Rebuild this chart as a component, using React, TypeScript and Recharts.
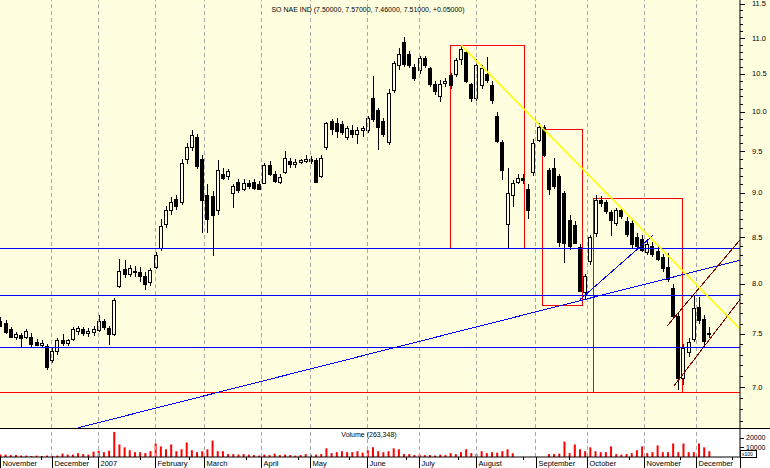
import { Bar, BarChart, ComposedChart, ReferenceArea, ReferenceLine, XAxis, YAxis } from "recharts"

// one candle every second session
const opens = [
  7.62, 7.61, 7.55, 7.47, 7.49, 7.47, 7.47, 7.42, 7.39, 7.38, 7.25, 7.33, 7.44, 7.41, 7.45, 7.53, 7.55, 7.51, 7.52, 7.54,
  7.62, 7.56, 7.5, 7.98, 8.16, 8.1, 8.14, 8.12, 8.08, 8.02, 8.18, 8.38, 8.65, 8.8, 8.93, 8.9, 9.4, 9.55, 9.68, 9.4,
  8.98, 8.97, 8.8, 9.22, 9.2, 9.0, 9.13, 9.05, 9.12, 9.13, 9.1, 9.12, 9.33, 9.22, 9.13, 9.25, 9.38, 9.34, 9.37, 9.38,
  9.4, 9.39, 9.2, 9.55, 9.88, 9.86, 9.84, 9.68, 9.77, 9.72, 9.76, 9.77, 10.18, 10.02, 9.88, 9.62, 10.28, 10.62, 10.95, 10.78,
  10.6, 10.55, 10.72, 10.58, 10.36, 10.2, 10.38, 10.48, 10.5, 10.7, 10.8, 10.36, 10.18, 10.35, 10.5, 10.35, 9.95, 9.62, 8.65, 8.98,
  9.13, 9.18, 9.05, 9.25, 9.64, 9.8, 9.27, 9.3, 9.2, 9.0, 8.69, 8.63, 8.39, 7.92, 8.24, 8.55, 8.92, 8.9, 8.78, 8.66,
  8.8, 8.68, 8.66, 8.5, 8.48, 8.34, 8.4, 8.35, 8.28, 8.18, 7.96, 7.67, 7.08, 7.32, 7.45, 7.76, 7.64, 7.5,
]
const highs = [
  7.66, 7.63, 7.57, 7.52, 7.51, 7.55, 7.51, 7.45, 7.44, 7.4, 7.36, 7.46, 7.5, 7.45, 7.57, 7.58, 7.57, 7.56, 7.58, 7.68,
  7.64, 7.58, 7.86, 8.26, 8.25, 8.2, 8.19, 8.18, 8.12, 8.17, 8.34, 8.7, 8.85, 8.95, 8.98, 9.4, 9.6, 9.76, 9.72, 9.45,
  9.1, 9.02, 9.39, 9.3, 9.28, 9.1, 9.17, 9.16, 9.15, 9.16, 9.14, 9.36, 9.38, 9.26, 9.22, 9.5, 9.42, 9.4, 9.41, 9.46,
  9.44, 9.42, 9.46, 9.87, 9.91, 9.92, 9.88, 9.82, 9.83, 9.8, 9.82, 9.95, 10.47, 10.05, 9.92, 10.3, 10.68, 10.86, 11.02, 10.82,
  10.63, 10.75, 10.75, 10.6, 10.4, 10.42, 10.45, 10.52, 10.72, 10.9, 10.83, 10.38, 10.7, 10.62, 10.74, 10.4, 10.0, 9.64, 9.3, 9.15,
  9.22, 9.22, 9.1, 9.65, 9.86, 9.83, 9.3, 9.42, 9.22, 9.02, 8.75, 8.68, 8.42, 8.1, 8.52, 8.98, 8.96, 8.92, 8.8, 8.83,
  8.83, 8.72, 8.7, 8.55, 8.52, 8.48, 8.45, 8.4, 8.32, 8.33, 8.0, 7.7, 7.4, 7.46, 7.88, 7.87, 7.68, 7.57,
]
const lows = [
  7.57, 7.5, 7.46, 7.44, 7.37, 7.45, 7.37, 7.38, 7.37, 7.16, 7.22, 7.3, 7.38, 7.38, 7.43, 7.49, 7.48, 7.47, 7.48, 7.52,
  7.54, 7.39, 7.48, 7.96, 8.06, 8.07, 8.07, 8.02, 7.94, 7.98, 8.16, 8.35, 8.6, 8.75, 8.8, 8.86, 9.35, 9.5, 9.28, 8.55,
  8.55, 8.29, 8.75, 9.15, 9.15, 8.83, 9.0, 9.02, 9.05, 9.03, 9.03, 9.1, 9.2, 9.12, 9.11, 9.22, 9.3, 9.3, 9.34, 9.36,
  9.35, 9.12, 9.18, 9.52, 9.7, 9.66, 9.7, 9.64, 9.66, 9.59, 9.68, 9.73, 9.87, 9.52, 9.68, 9.58, 10.25, 10.55, 10.6, 10.58,
  10.4, 10.5, 10.58, 10.32, 10.22, 10.12, 10.33, 10.3, 10.46, 10.62, 10.38, 10.12, 10.14, 10.3, 10.38, 10.1, 9.6, 9.15, 8.38, 8.84,
  9.1, 9.1, 8.7, 9.2, 9.62, 9.43, 8.98, 9.05, 8.39, 8.22, 8.36, 8.42, 7.92, 7.84, 8.2, 8.5, 8.84, 8.76, 8.51, 8.62,
  8.7, 8.5, 8.38, 8.36, 8.34, 8.3, 8.28, 8.24, 8.12, 8.02, 7.65, 6.97, 7.02, 7.28, 7.42, 7.6, 7.38, 7.46,
]
const closes = [
  7.58, 7.52, 7.47, 7.5, 7.46, 7.53, 7.4, 7.39, 7.41, 7.18, 7.33, 7.44, 7.41, 7.44, 7.55, 7.56, 7.51, 7.53, 7.55, 7.62,
  7.57, 7.5, 7.84, 8.14, 8.1, 8.17, 8.12, 8.08, 8.0, 8.15, 8.31, 8.62, 8.8, 8.9, 8.85, 9.36, 9.55, 9.7, 9.32, 8.92,
  8.7, 8.75, 9.27, 9.18, 9.26, 9.08, 9.04, 9.12, 9.08, 9.06, 9.05, 9.33, 9.22, 9.14, 9.19, 9.42, 9.35, 9.37, 9.39, 9.41,
  9.38, 9.13, 9.42, 9.85, 9.78, 9.75, 9.74, 9.79, 9.72, 9.77, 9.79, 9.92, 9.9, 9.8, 9.72, 10.25, 10.65, 10.78, 10.63, 10.62,
  10.45, 10.72, 10.62, 10.36, 10.27, 10.36, 10.4, 10.35, 10.69, 10.85, 10.4, 10.18, 10.62, 10.58, 10.42, 10.15, 9.63, 9.27, 9.0, 9.12,
  9.18, 9.15, 8.8, 9.6, 9.8, 9.45, 9.05, 9.08, 8.45, 8.44, 8.4, 8.44, 7.93, 8.08, 8.5, 8.92, 8.88, 8.79, 8.69, 8.8,
  8.74, 8.53, 8.42, 8.4, 8.36, 8.42, 8.32, 8.26, 8.17, 8.05, 7.67, 7.08, 7.36, 7.42, 7.75, 7.63, 7.43, 7.51,
]
const volumes = [
  2500, 2500, 2000, 2000, 1500, 1500, 1000, 1500, 1000, 1500, 1000, 1500, 3500, 2500, 2500, 4000, 3000, 2500, 5500, 6500,
  5000, 6500, 26000, 13000, 10000, 7000, 5000, 5000, 4000, 6000, 14000, 11000, 8000, 13000, 6000, 8000, 15000, 7000, 5000, 6000,
  8000, 17000, 6000, 6000, 3000, 3000, 2500, 3000, 2500, 2000, 1500, 2500, 2000, 3500, 2000, 2500, 2000, 1500, 2000, 3000,
  2500, 2500, 3000, 9000, 4000, 5000, 6000, 5000, 5000, 6000, 4500, 7000, 10000, 6000, 5000, 6000, 9000, 8000, 3000, 3000,
  2000, 2500, 2000, 2000, 1500, 2500, 2000, 4000, 3000, 5000, 8000, 4000, 3000, 6000, 4000, 5000, 4500, 6000, 8000, 4000,
  0, 0, 0, 0, 0, 0, 3000, 3000, 3500, 16000, 4000, 13000, 8000, 6000, 10000, 6000, 5000, 5000, 11000, 3000,
  2500, 3000, 4000, 7000, 11000, 4000, 5000, 12000, 5000, 5000, 14000, 5000, 14000, 5000, 5000, 14000, 10000, 6000,
]

const sessions = opens.map((_, k) => k * 2)

const monthStarts = [0, 20, 38, 60, 79, 101, 120, 142, 162, 184, 207, 227, 249, 269]
const monthLabels = [
  "November", "December", "2007", "February", "March", "April", "May",
  "June", "July", "August", "September", "October", "November", "December",
]
const minorDayTicks = [16, 34, 54, 73, 95, 115, 135, 157, 177, 202, 220, 243, 263, 283]
const priceTicks = [
  6.7, 6.8, 6.9, 7.0, 7.1, 7.2, 7.3, 7.4, 7.5, 7.6, 7.7, 7.8, 7.9, 8.0, 8.1, 8.2, 8.3, 8.4, 8.5, 8.6, 8.7, 8.8, 8.9,
  9.0, 9.1, 9.2, 9.3, 9.4, 9.5, 9.6, 9.7, 9.8, 9.9, 10.0, 10.1, 10.2, 10.3, 10.4, 10.5, 10.6, 10.7, 10.8, 10.9,
  11.0, 11.1, 11.2, 11.3, 11.4, 11.5,
]
const volumeTicks = [10000, 20000]

// hand drawn studies on the chart, in (session, price)
const blueLevels = [8.38, 7.876, 7.372]
const redLevels = [6.946]
const boxes = [
  { x1: 174.3, x2: 202.6, y1: 8.38, y2: 10.89 },
  { x1: 209.5, x2: 225.0, y1: 7.78, y2: 9.77 },
  { x1: 229.2, x2: 263.6, y1: 6.946, y2: 8.94 },
]
const yellowTrend = [{ x: 178.2, y: 10.9 }, { x: 286, y: 7.546 }]
const blueTrends = [
  [{ x: 30.2, y: 6.64 }, { x: 286, y: 8.25 }],
  [{ x: 224.2, y: 7.84 }, { x: 252.4, y: 8.52 }],
]
const channel = [
  [{ x: 257.8, y: 7.575 }, { x: 286, y: 8.47 }],
  [{ x: 260.5, y: 7.01 }, { x: 286, y: 7.84 }],
]

const PANEL = "#FFFFE0"
const FONT = "'Liberation Sans', Arial, sans-serif"

const candles = sessions.map((i, k) => ({
  i,
  open: opens[k],
  high: highs[k],
  low: lows[k],
  close: closes[k],
  range: [lows[k], highs[k]],
  volume: volumes[k],
}))

const Candle = (props: any) => {
  const { x, y, width, height, payload } = props
  if (!payload) return null
  const top = Math.min(y, y + height)
  const bottom = Math.max(y, y + height)
  const lh = Math.log(payload.high)
  const span = lh - Math.log(payload.low) || 1
  const py = (v: number) => top + ((lh - Math.log(v)) / span) * (bottom - top)
  const left = Math.round(x)
  const w = Math.round(width)
  const cx = left + Math.floor(w / 2) + 0.5
  const yo = py(payload.open)
  const yc = py(payload.close)
  const bt = Math.round(Math.min(yo, yc))
  const bb = Math.max(Math.round(Math.max(yo, yc)), bt + 1)
  const up = payload.close >= payload.open
  return (
    <g shapeRendering="crispEdges">
      <line x1={cx} x2={cx} y1={Math.round(top)} y2={Math.round(bottom)} stroke="#000" />
      {up ? (
        <rect x={left + 0.5} y={bt + 0.5} width={w - 1} height={bb - bt} fill={PANEL} stroke="#000" />
      ) : (
        <rect x={left} y={bt} width={w} height={bb - bt + 1} fill="#000" />
      )}
    </g>
  )
}

const PriceTick = (props: any) => {
  const { x, y, payload } = props
  const v = payload.value
  const major = Math.abs(v * 2 - Math.round(v * 2)) < 1e-6
  const yy = Math.round(y) + 0.5
  return (
    <g>
      <line x1={x} x2={x + (major ? 5 : 3)} y1={yy} y2={yy} stroke="#000" shapeRendering="crispEdges" />
      {major && v >= 7 && (
        <text x={x + 12} y={y + 2.5} fontSize={7.5} fontFamily={FONT} fill="#000">
          {v.toFixed(1)}
        </text>
      )}
    </g>
  )
}

const VolTick = (props: any) => {
  const { x, y, payload } = props
  const yy = Math.round(y) + 0.5
  return (
    <g>
      <line x1={x} x2={x + 4} y1={yy} y2={yy} stroke="#000" shapeRendering="crispEdges" />
      <text x={x + 6} y={y + 2.5} fontSize={7} fontFamily={FONT} fill="#000">
        {payload.value}
      </text>
    </g>
  )
}

const DayTick = (props: any) => {
  const { x, y, payload } = props
  const xx = Math.round(x) + 0.5
  const m = monthStarts.indexOf(payload.value)
  if (m < 0) {
    return <line x1={xx} x2={xx} y1={y} y2={y + 3} stroke="#000" shapeRendering="crispEdges" />
  }
  return (
    <g>
      <line x1={xx} x2={xx} y1={y} y2={y + 11} stroke="#000" shapeRendering="crispEdges" />
      <text x={xx + 2} y={y + 9} fontSize={7.5} fontFamily={FONT} fill="#000">
        {monthLabels[m]}
      </text>
    </g>
  )
}

const dayTicks = [...monthStarts, ...minorDayTicks].sort((a, b) => a - b)

export default function App() {
  return (
    <div style={{ position: "fixed", left: 0, top: 0, width: 770, height: 468, background: "#fff", overflow: "hidden" }}>
      <div style={{ position: "absolute", left: 0, top: 0, width: 770, height: 428, background: PANEL }} />

      <div style={{ position: "absolute", left: 0, top: 0 }}>
        <ComposedChart width={770} height={428} data={candles} margin={{ top: 0, right: 0, bottom: 0, left: 0 }}>
          <XAxis dataKey="i" type="number" domain={[0, 286]} hide allowDataOverflow />
          <YAxis
            orientation="right"
            width={30}
            scale="log"
            type="number"
            domain={[6.638, 11.556]}
            allowDataOverflow
            ticks={priceTicks}
            interval={0}
            tick={PriceTick}
            tickLine={false}
            tickSize={0}
            tickMargin={0}
            axisLine={{ stroke: "#000" }}
          />
          {monthStarts.slice(1).map((m) => (
            <ReferenceLine key={"g" + m} x={m} stroke="#a8a8a8" strokeDasharray="4 3" shapeRendering="crispEdges" />
          ))}
          <Bar dataKey="range" barSize={4} shape={Candle} isAnimationActive={false} />
          {boxes.map((b, k) => (
            <ReferenceArea
              key={"b" + k}
              x1={b.x1}
              x2={b.x2}
              y1={b.y1}
              y2={b.y2}
              fill="none"
              fillOpacity={0}
              stroke="#FF0000"
              strokeWidth={1}
              ifOverflow="visible"
              shapeRendering="crispEdges"
            />
          ))}
          {blueLevels.map((p) => (
            <ReferenceLine key={"l" + p} y={p} stroke="#0000FF" shapeRendering="crispEdges" ifOverflow="visible" />
          ))}
          {redLevels.map((p) => (
            <ReferenceLine key={"r" + p} y={p} stroke="#FF0000" shapeRendering="crispEdges" ifOverflow="visible" />
          ))}
          {blueTrends.map((s, k) => (
            <ReferenceLine key={"t" + k} segment={s} stroke="#0000FF" ifOverflow="visible" shapeRendering="crispEdges" />
          ))}
          {channel.map((s, k) => (
            <ReferenceLine key={"c" + k} segment={s} stroke="#800000" ifOverflow="visible" shapeRendering="crispEdges" />
          ))}
          <ReferenceLine segment={yellowTrend} stroke="#FFFF00" strokeWidth={1.5} ifOverflow="visible" />
        </ComposedChart>
      </div>

      <div style={{ position: "absolute", left: 0, top: 428 }}>
        <BarChart width={770} height={40} data={candles} margin={{ top: 1, right: 0, bottom: 0, left: 0 }}>
          <XAxis
            dataKey="i"
            type="number"
            domain={[0, 286]}
            allowDataOverflow
            ticks={dayTicks}
            interval={0}
            tick={DayTick}
            tickLine={false}
            tickSize={0}
            tickMargin={0}
            height={11}
            axisLine={{ stroke: "#000" }}
          />
          <YAxis
            orientation="right"
            width={30}
            domain={[0, 29000]}
            allowDataOverflow
            ticks={volumeTicks}
            interval={0}
            tick={VolTick}
            tickLine={false}
            tickSize={0}
            tickMargin={0}
            axisLine={{ stroke: "#000" }}
          />
          {monthStarts.slice(1).map((m) => (
            <ReferenceLine key={"vg" + m} x={m} stroke="#a8a8a8" strokeDasharray="4 3" shapeRendering="crispEdges" />
          ))}
          <Bar dataKey="volume" fill="#FF0000" barSize={2} isAnimationActive={false} />
        </BarChart>
      </div>

      <svg
        width={770}
        height={468}
        style={{ position: "absolute", left: 0, top: 0, pointerEvents: "none" }}
        fontFamily={FONT}
      >
        <line x1={0} x2={770} y1={428.5} y2={428.5} stroke="#000" shapeRendering="crispEdges" />
        <line x1={740.5} x2={740.5} y1={457} y2={468} stroke="#000" shapeRendering="crispEdges" />
        <rect x={740.5} y={450.5} width={16} height={7} fill="#fff" stroke="#000" shapeRendering="crispEdges" />
        <text x={742} y={456} fontSize={5} fill="#000">x100</text>
        <text x={368} y={12} fontSize={7} fill="#000" textAnchor="middle">
          SO NAE IND (7.50000, 7.57000, 7.46000, 7.51000, +0.05000)
        </text>
        <text x={369} y={437} fontSize={7} fill="#000" textAnchor="middle">
          Volume (263,348)
        </text>
      </svg>
    </div>
  )
}
